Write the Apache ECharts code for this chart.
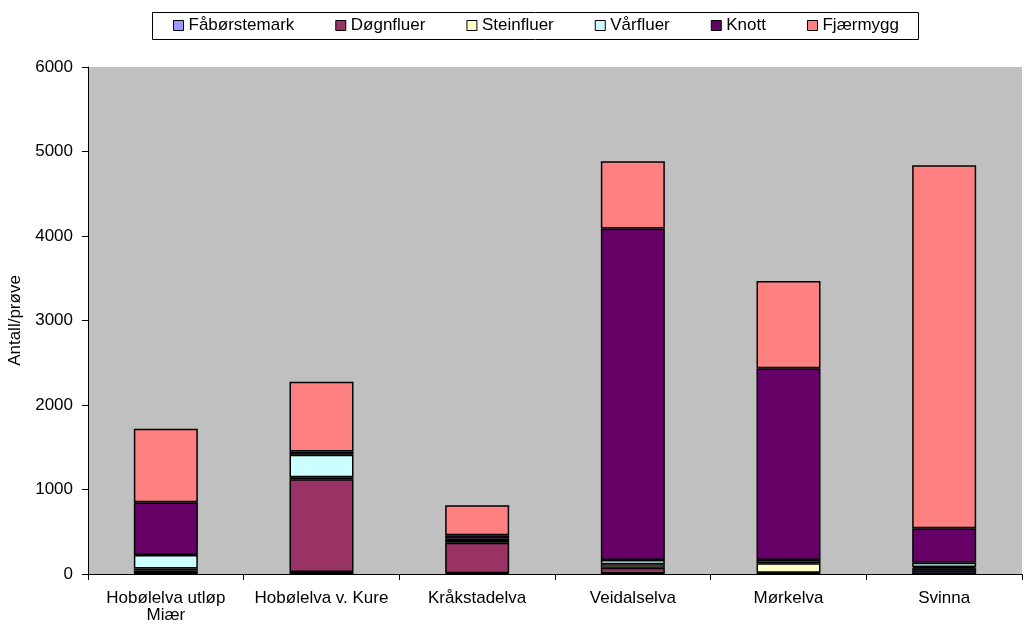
<!DOCTYPE html>
<html>
<head>
<meta charset="utf-8">
<script src="https://cdn.jsdelivr.net/npm/echarts@6/dist/echarts.min.js"></script>
<style>
html,body{margin:0;padding:0;background:#fff;}
#c{width:1024px;height:627px;}
</style>
</head>
<body>
<div id="c"></div>
<script>
const categories = ['Hobølelva utløp\nMiær', 'Hobølelva v. Kure', 'Kråkstadelva', 'Veidalselva', 'Mørkelva', 'Svinna'];
const seriesNames = ['Fåbørstemark', 'Døgnfluer', 'Steinfluer', 'Vårfluer', 'Knott', 'Fjærmygg'];
const faborstemark = [5, 25, 8, 5, 8, 39];
const dognfluer = [35, 1095, 362, 70, 8, 28];
const steinfluer = [25, 25, 20, 40, 110, 15];
const varfluer = [160, 265, 30, 50, 40, 50];
const knott = [625, 40, 40, 3925, 2270, 410];
const fjaermygg = [870, 825, 355, 795, 1030, 4295];
const yTicks = [0, 1000, 2000, 3000, 4000, 5000, 6000];
const colors = ['#9999FF', '#993366', '#FFFFCC', '#CCFFFF', '#660066', '#FF8080'];
const values = [faborstemark, dognfluer, steinfluer, varfluer, knott, fjaermygg];

const FONT = "'Liberation Sans', Arial, sans-serif";
const chart = echarts.init(document.getElementById('c'), null, {renderer: 'canvas'});
chart.setOption({
  animation: false,
  backgroundColor: '#ffffff',
  color: colors,
  graphic: [{
    type: 'rect', left: 152, top: 12, z: -1,
    shape: {width: 766, height: 27},
    style: {fill: '#ffffff', stroke: '#000000', lineWidth: 1}
  }],
  legend: {
    left: 173, top: 17, padding: 0,
    itemWidth: 10, itemHeight: 10, itemGap: 41,
    icon: 'rect',
    textStyle: {fontFamily: FONT, fontSize: 17, color: '#000'},
    itemStyle: {borderColor: '#000', borderWidth: 1},
    data: seriesNames
  },
  grid: {
    left: 88, right: 2, top: 67, bottom: 53,
    containLabel: false, outerBoundsMode: 'none',
    show: true, backgroundColor: '#C0C0C0', borderWidth: 0
  },
  xAxis: {
    type: 'category',
    data: categories,
    axisLine: {lineStyle: {color: '#000', width: 1}},
    axisTick: {show: true, inside: false, length: 6, lineStyle: {color: '#000'}},
    axisLabel: {fontFamily: FONT, fontSize: 17, color: '#000', margin: 16, lineHeight: 17, interval: 0}
  },
  yAxis: {
    type: 'value',
    min: yTicks[0], max: yTicks[yTicks.length - 1], interval: 1000,
    name: 'Antall/prøve',
    nameLocation: 'middle', nameRotate: 90, nameGap: 62,
    nameTextStyle: {fontFamily: FONT, fontSize: 17, color: '#000'},
    axisLine: {show: true, lineStyle: {color: '#000', width: 1}},
    axisTick: {show: true, inside: false, length: 6, lineStyle: {color: '#000'}},
    axisLabel: {fontFamily: FONT, fontSize: 17, color: '#000', margin: 15, formatter: v => String(v)},
    splitLine: {show: false}
  },
  series: seriesNames.map((n, i) => ({
    name: n,
    type: 'bar',
    stack: 'total',
    barWidth: 64,
    data: values[i],
    itemStyle: {color: colors[i], borderColor: '#000', borderWidth: 1.5}
  }))
});
</script>
</body>
</html>
